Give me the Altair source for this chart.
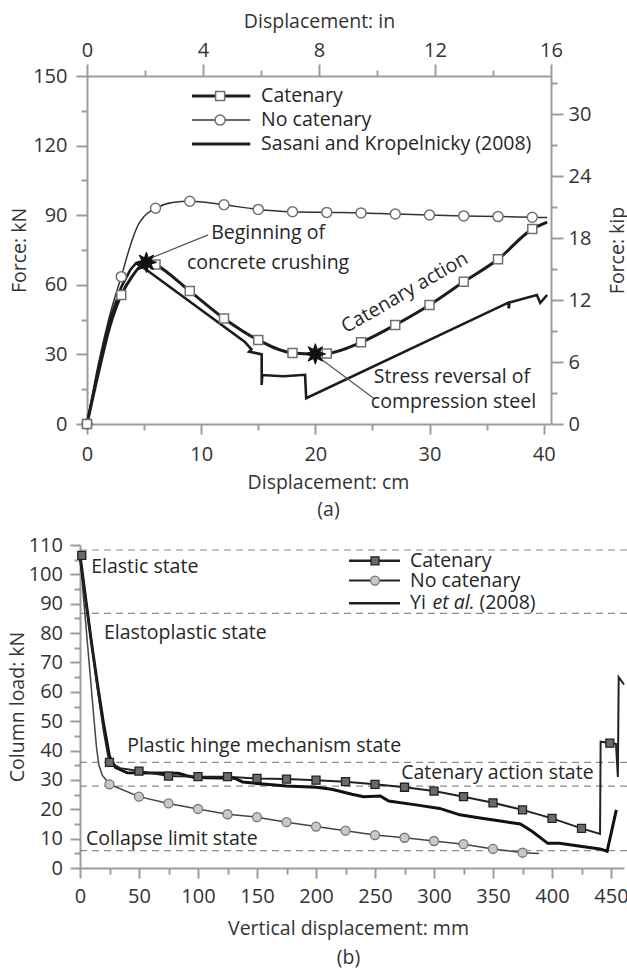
import math
import altair as alt
import pandas as pd

FONT = "Open Sans"
INK = "#1c1c1c"
TXT = "#262626"
AXC = "#9c9c9c"
LABC = "#333333"
FS = 19.5

# ---------------- panel (a) data ----------------
a_cat_line_x = [0, 1, 2, 3, 4, 5, 5.5, 6, 9, 12, 15, 18, 20, 21, 24, 27, 30, 33, 36, 39, 40.3]
a_cat_line_y = [0, 22, 42, 55.6, 64, 69.4, 70, 68.8, 57.3, 45.5, 36.2, 30.6, 30.2, 30.4, 35.2, 42.7, 51.3, 61.3, 71.0, 84.0, 87.0]
a_cat_mark_x = [0, 3, 6, 9, 12, 15, 18, 21, 24, 27, 30, 33, 36, 39]
a_cat_mark_y = [0, 55.6, 68.8, 57.3, 45.5, 36.2, 30.6, 30.4, 35.2, 42.7, 51.3, 61.3, 71.0, 84.0]

a_nc_line_x = [0, 1, 2, 3, 4, 4.5, 5, 6, 7.5, 9, 12, 15, 18, 21, 24, 27, 30, 33, 36, 39, 40.3]
a_nc_line_y = [0, 26, 47, 63.5, 80, 86, 89.5, 93, 95.5, 96, 94.5, 92.5, 91.5, 91.2, 91, 90.5, 90.1, 89.7, 89.4, 89.1, 89]
a_nc_mark_x = [0, 3, 6, 9, 12, 15, 18, 21, 24, 27, 30, 33, 36, 39]
a_nc_mark_y = [0, 63.5, 93, 96, 94.5, 92.5, 91.5, 91.2, 91, 90.5, 90.1, 89.7, 89.4, 89.1]

a_sk_x = [0, 1, 2, 3, 3.8, 4.3, 5.2, 13.8, 14.4, 14.2, 15.3, 15.3, 15.35, 17.2, 19.1, 19.2, 36.9, 36.95, 37.0, 39.4, 39.7, 40.3]
a_sk_y = [0, 24, 45, 59, 66.5, 69.3, 66.5, 35.5, 32.2, 31.2, 30.0, 16.8, 21.1, 20.6, 21.2, 11.1, 52.3, 49.8, 52.4, 55.6, 52.2, 55.6]

a_star_x = [5.2, 20.0]
a_star_y = [69.7, 30.2]

a_note_text = ["Beginning of", "concrete crushing", "Stress reversal of", "compression steel"]
a_note_x = [15.86, 15.86, 31.96, 32.1]
a_note_y = [82.3, 69.5, 20.4, 9.6]
a_lead_x = [5.54, 20.41]
a_lead_y = [71.4, 28.3]
a_lead_x2 = [10.61, 25.1]
a_lead_y2 = [81.5, 11.1]
a_rot_text = ["Catenary action"]
a_rot_x = [27.83]
a_rot_y = [56.6]

a_leg_labels = ["Catenary", "No catenary", "Sasani and Kropelnicky (2008)"]
a_leg_y = [141.4, 131.0, 120.7]
a_leg_x0, a_leg_x1, a_leg_xm, a_leg_xt = 9.2, 14.3, 11.66, 15.25

# ---------------- panel (b) data ----------------
b_cat_line_x = [0, 5, 10, 15, 20, 23, 25, 34, 50, 75, 100, 125, 150, 175, 200, 225, 250, 275, 300,
                325, 350, 375, 400, 425, 440.7, 441.2, 454.2, 455.8, 456.5, 461]
b_cat_line_y = [106.5, 91, 76, 61, 47, 40, 36, 34, 33, 31.3, 31.1, 31.1, 30.5, 30.3, 29.9, 29.4, 28.5, 27.5, 26.2,
                24.3, 22.2, 19.8, 16.9, 13.5, 11.6, 43, 42.3, 31, 65, 62.5]
b_cat_mark_x = [1.5, 25, 50, 75, 100, 125, 150, 175, 200, 225, 250, 275, 300, 325, 350, 375, 400, 425, 449]
b_cat_mark_y = [106.5, 36, 33, 31.3, 31.1, 31.1, 30.5, 30.3, 29.9, 29.4, 28.5, 27.5, 26.2, 24.3, 22.2, 19.8, 16.9, 13.5, 42.5]

b_nc_line_x = [0, 3, 6, 9, 12, 14, 16, 19, 25, 50, 75, 100, 125, 150, 175, 200, 225, 250, 275, 300, 325, 350, 375, 389]
b_nc_line_y = [106.5, 92, 78, 64, 50, 41, 35, 31.5, 28.5, 24.3, 22, 20.1, 18.3, 17.3, 15.6, 14.1, 12.7, 11.2, 10.3, 9.2, 8.1, 6.5, 5.2, 4.9]
b_nc_mark_x = [25, 50, 75, 100, 125, 150, 175, 200, 225, 250, 275, 300, 325, 350, 375]
b_nc_mark_y = [28.5, 24.3, 22, 20.1, 18.3, 17.3, 15.6, 14.1, 12.7, 11.2, 10.3, 9.2, 8.1, 6.5, 5.2]

b_yi_x = [0, 5, 10, 15, 20, 25, 30, 40, 83.5, 90.5, 97.6, 130.8, 137.8, 150, 175, 200, 213.3, 230.4, 240.4, 254.5,
          261.6, 284.7, 304.8, 321.9, 339, 359.1, 373.2, 383.3, 396.4, 406.4, 416.5, 440.6, 446.7, 454.5]
b_yi_y = [106.5, 91, 76, 62, 49, 38, 34.3, 32.4, 32.3, 31.4, 30.8, 30.6, 29.3, 28.8, 27.9, 27.5, 26.8, 25.1,
          24.3, 24.5, 22.8, 21.5, 20.3, 18.1, 17, 15.8, 15, 12.4, 8.4, 8.4, 7.8, 6.5, 5.7, 19.8]

b_state_y = [108.3, 86.7, 36.0, 27.9, 5.9]
b_state_x0, b_state_x1 = 0, 464
b_state_text = ["Elastic state", "Elastoplastic state", "Plastic hinge mechanism state",
                "Catenary action state", "Collapse limit state"]
b_state_tx = [9.5, 20.3, 40.0, 272.2, 5.1]
b_state_ty = [102.4, 79.9, 41.4, 32.3, 9.9]

b_leg_y = [104.6, 97.9, 90.2]
b_leg_x0, b_leg_x1, b_leg_xm = 228.0, 271.2, 250.0
b_leg_text = ["Catenary", "No catenary", "Yi", "et al.", "(2008)"]
b_leg_tx = [279.7, 279.7, 279.7, 298.8, 338.5]
b_leg_ty = [104.6, 97.9, 90.2, 90.2, 90.2]
b_leg_style = ["normal", "normal", "normal", "italic", "normal"]

# ---------------- scales ----------------
XA = alt.Scale(domain=[0, 40.64], range=[7, 471], nice=False, zero=False)
YA = alt.Scale(domain=[0, 150], range=[348, 0], nice=False, zero=False)
XIN = alt.Scale(domain=[0, 16], range=[7, 471], nice=False, zero=False)
YKIP = alt.Scale(domain=[0, 150 / 4.448], range=[348, 0], nice=False, zero=False)
XB = alt.Scale(domain=[0, 461], range=[0, 544], nice=False, zero=False)
YB = alt.Scale(domain=[0, 110], range=[792, 469], nice=False, zero=False)


def df(x, y):
    return pd.DataFrame({"x": x, "y": y, "i": list(range(len(x)))})


def enc(sx, sy, xf="x", yf="y"):
    return dict(x=alt.X(f"{xf}:Q", scale=sx, axis=None), y=alt.Y(f"{yf}:Q", scale=sy, axis=None))


# star glyph (bold asterisk-like burst)
_pts = []
for k in range(16):
    r = 1.0 if k % 2 == 0 else 0.48
    ang = math.pi * k / 8 - math.pi / 2
    _pts.append(f"{r * math.cos(ang):.3f},{r * math.sin(ang):.3f}")
STAR = "M" + "L".join(_pts) + "Z"

# ---------------- panel (a) layers ----------------
ea = enc(XA, YA)
a_layers = [
    alt.Chart(df(a_nc_line_x, a_nc_line_y)).mark_line(color="#333333", strokeWidth=1.5, interpolate="monotone")
    .encode(order="i:Q", **ea),
    alt.Chart(df(a_sk_x, a_sk_y)).mark_line(color=INK, strokeWidth=2.6).encode(order="i:Q", **ea),
    alt.Chart(df(a_cat_line_x, a_cat_line_y)).mark_line(color=INK, strokeWidth=3, interpolate="monotone")
    .encode(order="i:Q", **ea),
    alt.Chart(df(a_nc_mark_x, a_nc_mark_y)).mark_point(shape="circle", filled=True, fill="white",
                                                          stroke="#707070", strokeWidth=1.5, size=100, opacity=1)
    .encode(**ea),
    alt.Chart(df(a_cat_mark_x, a_cat_mark_y)).mark_point(shape="square", filled=True, fill="white",
                                                            stroke="#707070", strokeWidth=1.5, size=81, opacity=1)
    .encode(**ea),
    alt.Chart(pd.DataFrame({"x": a_lead_x, "y": a_lead_y, "x2": a_lead_x2, "y2": a_lead_y2}))
    .mark_rule(color="#555555", strokeWidth=1.2)
    .encode(x2="x2:Q", y2="y2:Q", **ea),
    alt.Chart(df(a_star_x, a_star_y)).mark_point(shape=STAR, filled=True, color="#111111", size=420, opacity=1,
                                                    stroke="#111111", strokeWidth=1)
    .encode(**ea),
    alt.Chart(pd.DataFrame({"x": a_note_x, "y": a_note_y, "t": a_note_text}))
    .mark_text(font=FONT, fontSize=FS, color=TXT, align="center", baseline="middle")
    .encode(text="t:N", **ea),
    alt.Chart(pd.DataFrame({"x": a_rot_x, "y": a_rot_y, "t": a_rot_text}))
    .mark_text(font=FONT, fontSize=FS, color=TXT, align="center", baseline="middle", angle=330)
    .encode(text="t:N", **ea),
]
# legend (a)
for k, lab in enumerate(a_leg_labels):
    sw = 1.5 if k == 1 else 3
    a_layers.append(
        alt.Chart(pd.DataFrame({"x": [a_leg_x0], "x2": [a_leg_x1], "y": [a_leg_y[k]]}))
        .mark_rule(color=INK if k != 1 else "#333333", strokeWidth=sw)
        .encode(x2="x2:Q", **ea))
    a_layers.append(
        alt.Chart(pd.DataFrame({"x": [a_leg_xt], "y": [a_leg_y[k]], "t": [lab]}))
        .mark_text(font=FONT, fontSize=FS, color=TXT, align="left", baseline="middle")
        .encode(text="t:N", **ea))
a_layers.append(
    alt.Chart(df([a_leg_xm], [a_leg_y[0]])).mark_point(shape="square", filled=True, fill="white", stroke="#707070",
                                                        strokeWidth=1.5, size=81, opacity=1).encode(**ea))
a_layers.append(
    alt.Chart(df([a_leg_xm], [a_leg_y[1]])).mark_point(shape="circle", filled=True, fill="white", stroke="#707070",
                                                        strokeWidth=1.5, size=100, opacity=1).encode(**ea))
panel_a = alt.layer(*a_layers)

# ---------------- panel (b) layers ----------------
eb = enc(XB, YB)
b_layers = [
    alt.Chart(pd.DataFrame({"x": [b_state_x0] * len(b_state_y), "x2": [b_state_x1] * len(b_state_y), "y": b_state_y}))
    .mark_rule(color="#8c8c8c", strokeWidth=1.2, strokeDash=[7, 5])
    .encode(x2="x2:Q", **eb),
    alt.Chart(df(b_nc_line_x, b_nc_line_y)).mark_line(color="#444444", strokeWidth=1.5).encode(order="i:Q", **eb),
    alt.Chart(df(b_yi_x, b_yi_y)).mark_line(color="#111111", strokeWidth=3).encode(order="i:Q", **eb),
    alt.Chart(df(b_cat_line_x, b_cat_line_y)).mark_line(color="#222222", strokeWidth=2).encode(order="i:Q", **eb),
    alt.Chart(df(b_nc_mark_x, b_nc_mark_y)).mark_point(shape="circle", filled=True, fill="#c8c8c8", stroke="#777777",
                                                          strokeWidth=1.3, size=81, opacity=1).encode(**eb),
    alt.Chart(df(b_cat_mark_x, b_cat_mark_y)).mark_point(shape="square", filled=True, fill="#6a6a6a", stroke="#222222",
                                                            strokeWidth=1.3, size=64, opacity=1).encode(**eb),
    alt.Chart(pd.DataFrame({"x": b_state_tx, "y": b_state_ty, "t": b_state_text}))
    .mark_text(font=FONT, fontSize=FS, color=TXT, align="left", baseline="middle")
    .encode(text="t:N", **eb),
]
# legend (b)
for k in range(3):
    b_layers.append(
        alt.Chart(pd.DataFrame({"x": [b_leg_x0], "x2": [b_leg_x1], "y": [b_leg_y[k]]}))
        .mark_rule(color="#222222", strokeWidth=2.5 if k != 1 else 2)
        .encode(x2="x2:Q", **eb))
b_layers.append(
    alt.Chart(df([b_leg_xm], [b_leg_y[0]])).mark_point(shape="square", filled=True, fill="#6a6a6a", stroke="#222222",
                                                        strokeWidth=1.3, size=64, opacity=1).encode(**eb))
b_layers.append(
    alt.Chart(df([b_leg_xm], [b_leg_y[1]])).mark_point(shape="circle", filled=True, fill="#c8c8c8", stroke="#777777",
                                                        strokeWidth=1.3, size=81, opacity=1).encode(**eb))
for style in ["normal", "italic"]:
    sel = [k for k in range(len(b_leg_text)) if b_leg_style[k] == style]
    b_layers.append(
        alt.Chart(pd.DataFrame({"x": [b_leg_tx[k] for k in sel], "y": [b_leg_ty[k] for k in sel],
                                "t": [b_leg_text[k] for k in sel]}))
        .mark_text(font=FONT, fontSize=FS, color=TXT, align="left", baseline="middle", fontStyle=style)
        .encode(text="t:N", **eb))
panel_b = alt.layer(*b_layers)


# ---------------- axis carriers ----------------
def carrier(scale, values, orient, chan, **kw):
    d = pd.DataFrame({"v": [values[0]]})
    ax = alt.Axis(values=values, orient=orient, labelFlush=False, labelOverlap=False, grid=False, **kw)
    if chan == "x":
        e = {"x": alt.X("v:Q", scale=scale, axis=ax)}
    else:
        e = {"y": alt.Y("v:Q", scale=scale, axis=ax)}
    return alt.Chart(d).mark_point(opacity=0).encode(**e)


def minor(scale, values, orient, chan, offset):
    return carrier(scale, values, orient, chan, offset=offset, labels=False, domain=False, tickSize=6, title=None)


a_cm_major = [0, 10, 20, 30, 40]
a_cm_minor = [5, 15, 25, 35]
a_kn_major = [0, 30, 60, 90, 120, 150]
a_kn_minor = [15, 45, 75, 105, 135]
a_in_major = [0, 4, 8, 12, 16]
a_in_minor = [2, 6, 10, 14]
a_kip_major = [0, 6, 12, 18, 24, 30]
a_kip_minor = [3, 9, 15, 21, 27, 33]
b_mm_major = [0, 50, 100, 150, 200, 250, 300, 350, 400, 450]
b_mm_minor = [25, 75, 125, 175, 225, 275, 325, 375, 425]
b_kn_major = [0, 10, 20, 30, 40, 50, 60, 70, 80, 90, 100, 110]
b_kn_minor = [5, 15, 25, 35, 45, 55, 65, 75, 85, 95, 105]

axes = [
    carrier(XA, a_cm_major, "bottom", "x", offset=-444, tickSize=10, labelPadding=10,
            title=["Displacement: cm", "(a)"], titleX=248, titleY=49, titleBaseline="top", titleAlign="center",
            titleLineHeight=27.5),
    minor(XA, a_cm_minor, "bottom", "x", -444),
    carrier(YA, a_kn_major, "left", "y", offset=-7, tickSize=11, labelPadding=9,
            title="Force: kN", titleX=-68, titleY=174, titleAngle=270, titleBaseline="middle", titleAlign="center"),
    minor(YA, a_kn_minor, "left", "y", -7),
    carrier(XIN, a_in_major, "top", "x", offset=0, tickSize=12, labelPadding=4,
            title="Displacement: in", titleX=239, titleY=-55, titleBaseline="middle", titleAlign="center"),
    minor(XIN, a_in_minor, "top", "x", 0),
    carrier(YKIP, a_kip_major, "right", "y", offset=-76, tickSize=12, labelPadding=5,
            title="Force: kip", titleX=66, titleY=174, titleAngle=270, titleBaseline="middle", titleAlign="center"),
    minor(YKIP, a_kip_minor, "right", "y", -76),
    carrier(XB, b_mm_major, "bottom", "x", offset=0, tickSize=10, labelPadding=8,
            title=["Vertical displacement: mm", "(b)"], titleX=268, titleY=51, titleBaseline="top",
            titleAlign="center", titleLineHeight=29),
    minor(XB, b_mm_minor, "bottom", "x", 0),
    carrier(YB, b_kn_major, "left", "y", offset=0, tickSize=10, labelPadding=7.5,
            title="Column load: kN", titleX=-63, titleY=630.5, titleAngle=270, titleBaseline="middle",
            titleAlign="center"),
    minor(YB, b_kn_minor, "left", "y", 0),
]

chart = (
    alt.layer(panel_a, panel_b, *axes)
    .resolve_scale(x="independent", y="independent")
    .properties(width=547, height=792,
                padding={"left": 80, "top": 76, "right": 0, "bottom": 100},
                autosize=alt.AutoSizeParams(type="none"),
                background="white")
    .configure_view(stroke="transparent")
    .configure_axis(domainColor=AXC, domainWidth=2, tickColor=AXC, tickWidth=2,
                    labelFont=FONT, labelFontSize=20, labelColor=LABC,
                    titleFont=FONT, titleFontSize=FS, titleColor=LABC, titleFontWeight="normal")
)

chart.save("out.html", embed_options={"renderer": "svg", "actions": False})
